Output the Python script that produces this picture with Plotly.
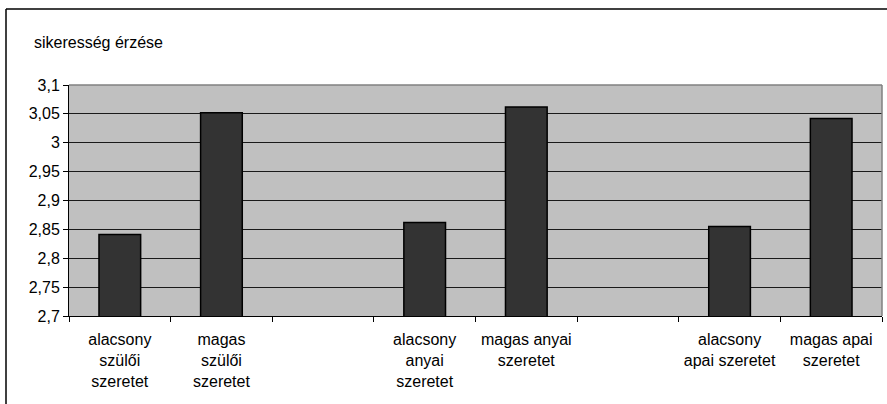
import plotly.graph_objects as go

categories = [
    "alacsony<br>szülői<br>szeretet",
    "magas<br>szülői<br>szeretet",
    " ",
    "alacsony<br>anyai<br>szeretet",
    "magas anyai<br>szeretet",
    "  ",
    "alacsony<br>apai szeretet",
    "magas apai<br>szeretet",
]
values = [2.841, 3.052, None, 2.862, 3.062, None, 2.855, 3.042]

y_tickvals = [2.7, 2.75, 2.8, 2.85, 2.9, 2.95, 3.0, 3.05, 3.1]
y_ticktext = ["2,7", "2,75", "2,8", "2,85", "2,9", "2,95", "3", "3,05", "3,1"]
y_title = "sikeresség érzése"

W, H = 887, 404
ml, mr, mt, mb = 69, 5, 85, 88
pw, ph = W - ml - mr, H - mt - mb

def px_x(p):
    return (p - ml) / pw

def px_y(p):
    return (H - mb - p) / ph

font = "Liberation Sans, Arial, sans-serif"

fig = go.Figure(go.Bar(
    x=categories, y=values,
    marker=dict(color="#333333", line=dict(color="#000000", width=1.5)),
    hoverinfo="x+y",
))

fig.update_layout(
    width=W, height=H,
    margin=dict(l=ml, r=mr, t=mt, b=mb),
    paper_bgcolor="white", plot_bgcolor="#c0c0c0",
    bargap=0.59, showlegend=False,
    font=dict(family=font, size=16, color="black"),
    xaxis=dict(
        type="category", tickson="boundaries", ticks="outside", ticklen=5,
        tickcolor="black", showline=True, linecolor="black", linewidth=1,
        showgrid=False, tickfont=dict(size=16), fixedrange=True,
        ticklabelstandoff=9,
    ),
    yaxis=dict(
        range=[2.7, 3.1], tickvals=y_tickvals, ticktext=y_ticktext,
        ticks="outside", ticklen=5, tickcolor="black",
        showline=True, linecolor="black", linewidth=1,
        showgrid=True, gridcolor="#1a1a1a", gridwidth=1,
        zeroline=False, tickfont=dict(size=16), fixedrange=True,
    ),
    annotations=[dict(
        text=y_title, xref="paper", yref="paper",
        x=px_x(32), y=px_y(43), xanchor="left", yanchor="middle",
        showarrow=False, font=dict(size=16),
    )],
    shapes=[
        # plot area top and right edges (gray)
        dict(type="line", xref="paper", yref="paper", x0=0, x1=1, y0=1, y1=1,
             line=dict(color="#808080", width=1.5), layer="above"),
        dict(type="line", xref="paper", yref="paper", x0=1, x1=1, y0=0, y1=1,
             line=dict(color="#808080", width=1.5), layer="above"),
        # outer chart frame (left and top)
        dict(type="line", xref="paper", yref="paper",
             x0=px_x(6), x1=px_x(6), y0=px_y(9), y1=px_y(H + 5),
             line=dict(color="black", width=1.5)),
        dict(type="line", xref="paper", yref="paper",
             x0=px_x(6), x1=px_x(W + 5), y0=px_y(9), y1=px_y(9),
             line=dict(color="black", width=1.5)),
    ],
)

fig.write_html("out.html", config={"displayModeBar": False},
               post_script="document.body.style.margin='0';")
